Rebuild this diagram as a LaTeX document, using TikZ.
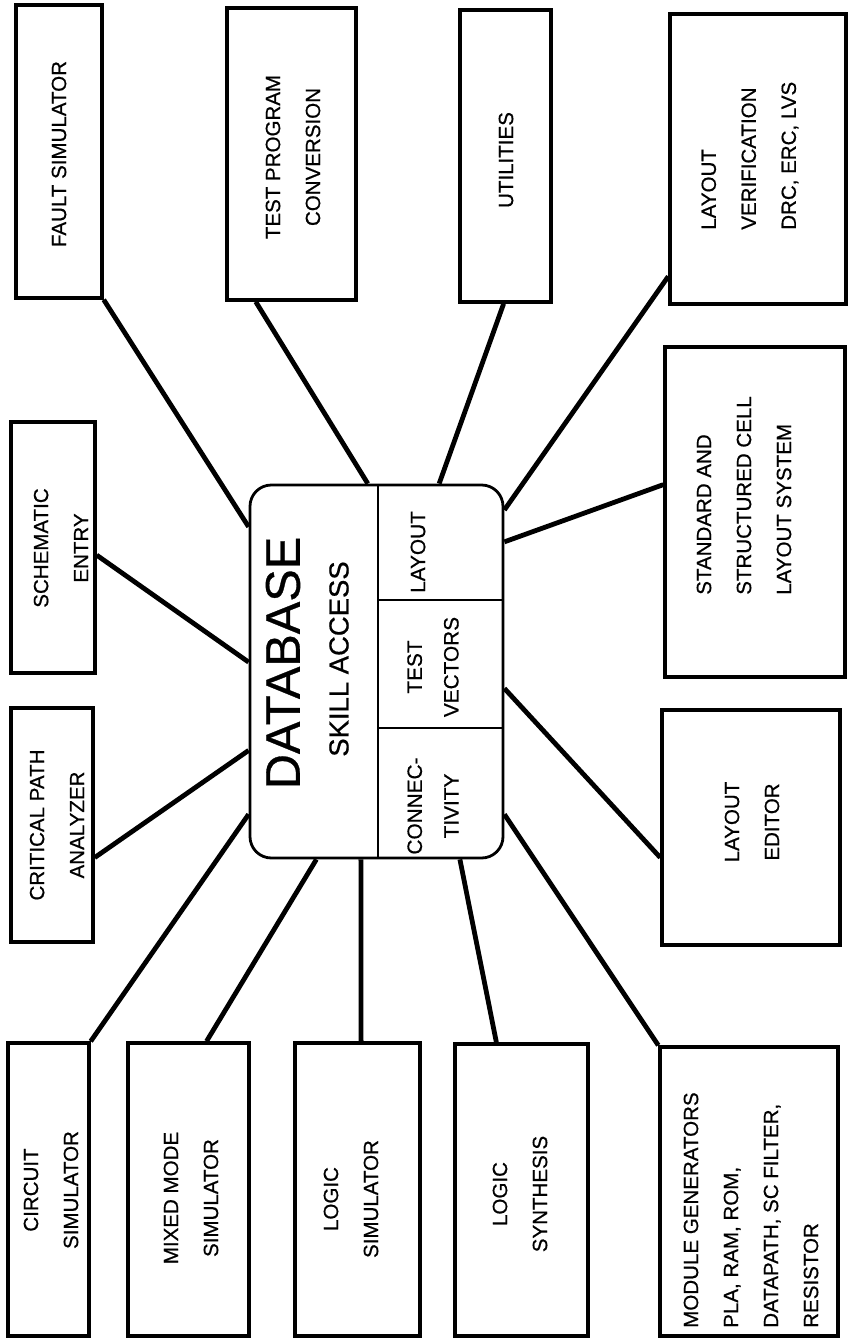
\documentclass[tikz,border=0pt]{standalone}
\usepackage{fontspec}
\setmainfont{Liberation Sans}
\newfontfamily\scanfont{Liberation Sans}[FakeBold=0.6]
\usetikzlibrary{fit,calc}
\tikzset{
  box/.style={draw, line width=2.6pt, inner sep=0pt},
  conn/.style={line width=3.6pt},
  divider/.style={line width=2pt},
  txt/.style={rotate=90, align=center, inner sep=0pt, font=\scanfont\fontsize{15.4}{30}\selectfont},
  txtl/.style={txt, align=left, anchor=west},
  celltxt/.style={rotate=90, align=center, inner sep=0pt, font=\scanfont\fontsize{15.6}{27.5}\selectfont},
}
\begin{document}
\begin{tikzpicture}[x=0.75pt,y=-0.75pt]
\useasboundingbox (0,0) rectangle (849,1339);
% central database
\node[draw, line width=2.1pt, rounded corners=16pt, inner sep=0pt, fit={(250,485) (503,858)}] (db) {};
\coordinate (dvtop) at (378,485);
\coordinate (dvbot) at (378,858);
\coordinate (h1l) at (378,600);
\coordinate (h1r) at (503,600);
\coordinate (h2l) at (378,728);
\coordinate (h2r) at (503,728);
\draw[divider] (dvtop) -- (dvbot);
\draw[divider] (h1l) -- (h1r);
\draw[divider] (h2l) -- (h2r);
\node[rotate=90, inner sep=0pt, font=\scanfont\fontsize{36.5}{40}\selectfont] (dbT) at (283,663) {DATABASE};
\node[rotate=90, inner sep=0pt, font=\scanfont\fontsize{20.6}{24}\selectfont] (skT) at (339,659) {SKILL ACCESS};
\node[celltxt] (layT) at (418,552) {LAYOUT};
\node[celltxt] (tvT) at (433,667) {TEST\\VECTORS};
\node[celltxt] (cnT) at (433,806) {CONNEC-\\TIVITY};

% outer boxes
\node[box, fit={(16,5) (102,298)}] (fault) {};
\node[box, fit={(227,8) (356,300)}] (tpc) {};
\node[box, fit={(460,10) (551,302)}] (util) {};
\node[box, fit={(670,14) (846,304)}] (lv) {};
\node[box, fit={(665,347) (845,677)}] (ss) {};
\node[box, fit={(662,710) (840,945)}] (le) {};
\node[box, fit={(11,422) (95,673)}] (se) {};
\node[box, fit={(11,708) (93,942)}] (cp) {};
\node[box, fit={(8,1043) (89,1336)}] (cs) {};
\node[box, fit={(128,1043) (249,1336)}] (mm) {};
\node[box, fit={(295,1043) (420,1336)}] (ls) {};
\node[box, fit={(455,1044) (588,1336)}] (sy) {};
\node[box, fit={(660,1047) (838,1336)}] (mg) {};

% texts
\node[txt] (faultT) at (59,154) {FAULT SIMULATOR};
\node[txt] (tpcT) at (293,157) {TEST PROGRAM\\CONVERSION};
\node[txt] (utilT) at (506,160) {UTILITIES};
\node[txtl] (lvT) at (750,230) {LAYOUT\\VERIFICATION\\DRC, ERC, LVS};
\node[txtl] (ssT) at (744,595) {STANDARD AND\\STRUCTURED CELL\\LAYOUT SYSTEM};
\node[txt] (leT) at (752,822) {LAYOUT\\EDITOR};
\node[txt] (seT) at (61,548) {SCHEMATIC\\ENTRY};
\node[txt] (cpT) at (57,825) {CRITICAL PATH\\ANALYZER};
\node[txt] (csT) at (51,1190) {CIRCUIT\\SIMULATOR};
\node[txt] (mmT) at (191,1198) {MIXED MODE\\SIMULATOR};
\node[txt] (lsT) at (351,1199) {LOGIC\\SIMULATOR};
\node[txt] (syT) at (520,1194) {LOGIC\\SYNTHESIS};
\node[txtl] (mgT) at (751,1328) {MODULE GENERATORS\\PLA, RAM, ROM,\\DATAPATH, SC FILTER,\\RESISTOR};

% connectors
\draw[conn] (fault.south east) -- ($(db.north west)!0.115!(db.south west)$);
\draw[conn] ($(tpc.south west)!0.23!(tpc.south east)$) -- ($(db.north west)!0.466!(db.north east)$);
\draw[conn] ($(util.south west)!0.48!(util.south east)$) -- ($(db.north west)!0.745!(db.north east)$);
\draw[conn] ($(lv.north west)!0.9!(lv.south west)$) -- ($(db.north east)!0.07!(db.south east)$);
\draw[conn] ($(ss.north west)!0.418!(ss.south west)$) -- ($(db.north east)!0.155!(db.south east)$);
\draw[conn] ($(le.north west)!0.626!(le.south west)$) -- ($(db.north east)!0.545!(db.south east)$);
\draw[conn] ($(se.north east)!0.53!(se.south east)$) -- ($(db.north west)!0.475!(db.south west)$);
\draw[conn] ($(cp.north east)!0.637!(cp.south east)$) -- ($(db.north west)!0.71!(db.south west)$);
\draw[conn] (cs.north east) -- ($(db.north west)!0.88!(db.south west)$);
\draw[conn] ($(mm.north west)!0.645!(mm.north east)$) -- ($(db.south west)!0.265!(db.south east)$);
\draw[conn] ($(ls.north west)!0.528!(ls.north east)$) -- ($(db.south west)!0.439!(db.south east)$);
\draw[conn] ($(sy.north west)!0.316!(sy.north east)$) -- ($(db.south west)!0.826!(db.south east)$);
\draw[conn] (mg.north west) -- ($(db.north east)!0.88!(db.south east)$);
\end{tikzpicture}
\end{document}
